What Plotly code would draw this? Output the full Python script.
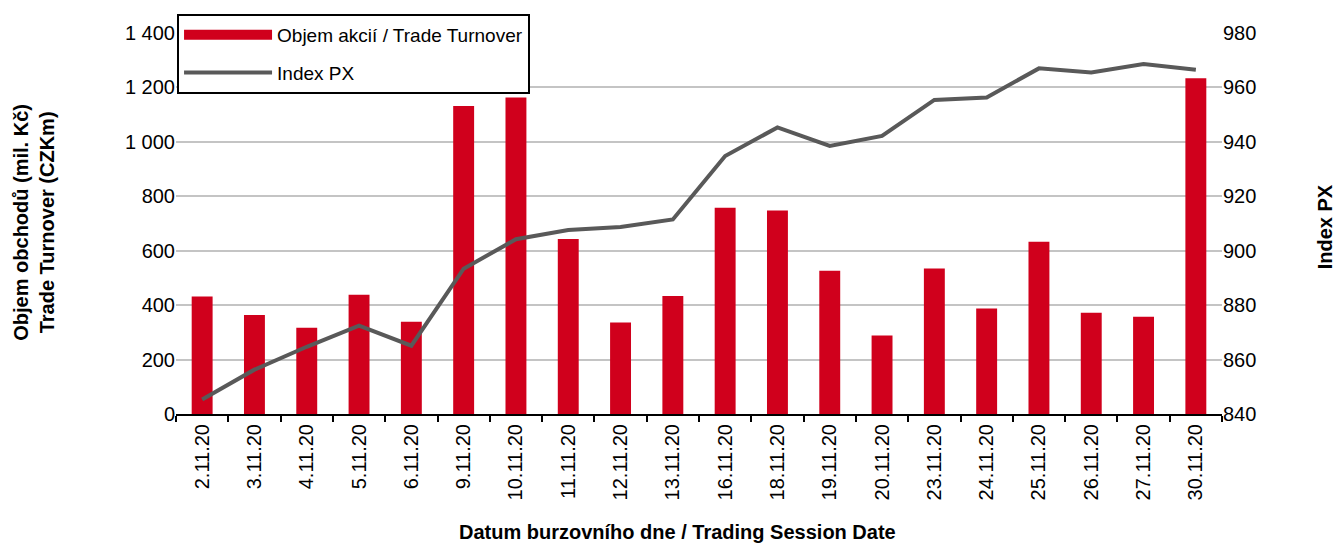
import plotly.graph_objects as go

dates = ["2.11.20", "3.11.20", "4.11.20", "5.11.20", "6.11.20", "9.11.20", "10.11.20",
         "11.11.20", "12.11.20", "13.11.20", "16.11.20", "18.11.20", "19.11.20", "20.11.20",
         "23.11.20", "24.11.20", "25.11.20", "26.11.20", "27.11.20", "30.11.20"]
turnover = [432, 364, 317, 438, 339, 1132, 1163, 643, 336, 434, 758, 748, 526, 288,
            535, 388, 633, 372, 357, 1234]
index_px = [845.3, 856.3, 864.7, 872.5, 865.1, 893.4, 904.2, 907.6, 908.7, 911.5,
            934.8, 945.3, 938.5, 942.2, 955.4, 956.3, 967.0, 965.5, 968.6, 966.5]

left_ticks = [0, 200, 400, 600, 800, 1000, 1200, 1400]
right_ticks = [840, 860, 880, 900, 920, 940, 960, 980]

FONT = "Liberation Sans, Arial, sans-serif"
RED = "#D0001C"
GREY = "#595959"

fig = go.Figure()
fig.add_trace(go.Bar(x=dates, y=turnover, name="Objem akcií / Trade Turnover",
                     marker=dict(color=RED, line=dict(width=0)), yaxis="y",
                     showlegend=False))
# legend-only entry so the legend key is drawn as a wide red band
fig.add_trace(go.Scatter(x=[dates[0]], y=[None], name="Objem akcií / Trade Turnover",
                         mode="lines", line=dict(color=RED, width=10), yaxis="y",
                         legendgroup="a", hoverinfo="skip"))
fig.add_trace(go.Scatter(x=dates, y=index_px, name="Index PX", mode="lines",
                         line=dict(color=GREY, width=4), yaxis="y2", legendgroup="b"))

fig.update_layout(
    width=1335, height=544,
    margin=dict(l=176, r=113, t=33, b=130, autoexpand=False),
    paper_bgcolor="white", plot_bgcolor="white",
    font=dict(family=FONT, size=20, color="black"),
    separators=", ",
    bargap=0.6,
    showlegend=True,
    legend=dict(x=0.001, y=1.05, xanchor="left", yanchor="top",
                bgcolor="white", bordercolor="black", borderwidth=2,
                font=dict(size=19), itemwidth=88, traceorder="grouped",
                tracegroupgap=10),
    xaxis=dict(type="category", tickangle=-90, tickfont=dict(size=20),
               showline=True, linecolor="black", linewidth=2,
               ticks="outside", tickson="boundaries", ticklen=6, tickwidth=2,
               tickcolor="black", showgrid=False, zeroline=False),
    yaxis=dict(range=[0, 1400], tickvals=left_ticks, tickformat=",d",
               showgrid=True, gridcolor="#C4C4C4", gridwidth=2,
               showline=False, zeroline=False, ticks="", ticklen=0,
               tickfont=dict(size=20)),
    yaxis2=dict(range=[840, 980], tickvals=right_ticks, overlaying="y", side="right",
                showgrid=False, showline=False, zeroline=False, ticks="",
                tickfont=dict(size=20)),
    annotations=[
        dict(text="<b>Objem obchodů (mil. Kč)<br>Trade Turnover (CZKm)</b>",
             xref="paper", yref="paper", x=-0.136, y=0.504, xanchor="center", yanchor="middle",
             textangle=-90, showarrow=False, font=dict(size=20)),
        dict(text="<b>Index PX</b>", xref="paper", yref="paper", x=1.0985, y=0.49,
             xanchor="center", yanchor="middle", textangle=-90, showarrow=False,
             font=dict(size=20)),
        dict(text="<b>Datum burzovního dne / Trading Session Date</b>", xref="paper",
             yref="paper", x=0.479, y=-0.31, xanchor="center", yanchor="middle",
             showarrow=False, font=dict(size=20)),
    ],
)

fig.write_html("out.html", config={"displayModeBar": False},
               post_script="document.body.style.margin='0';document.body.style.overflow='hidden';")
